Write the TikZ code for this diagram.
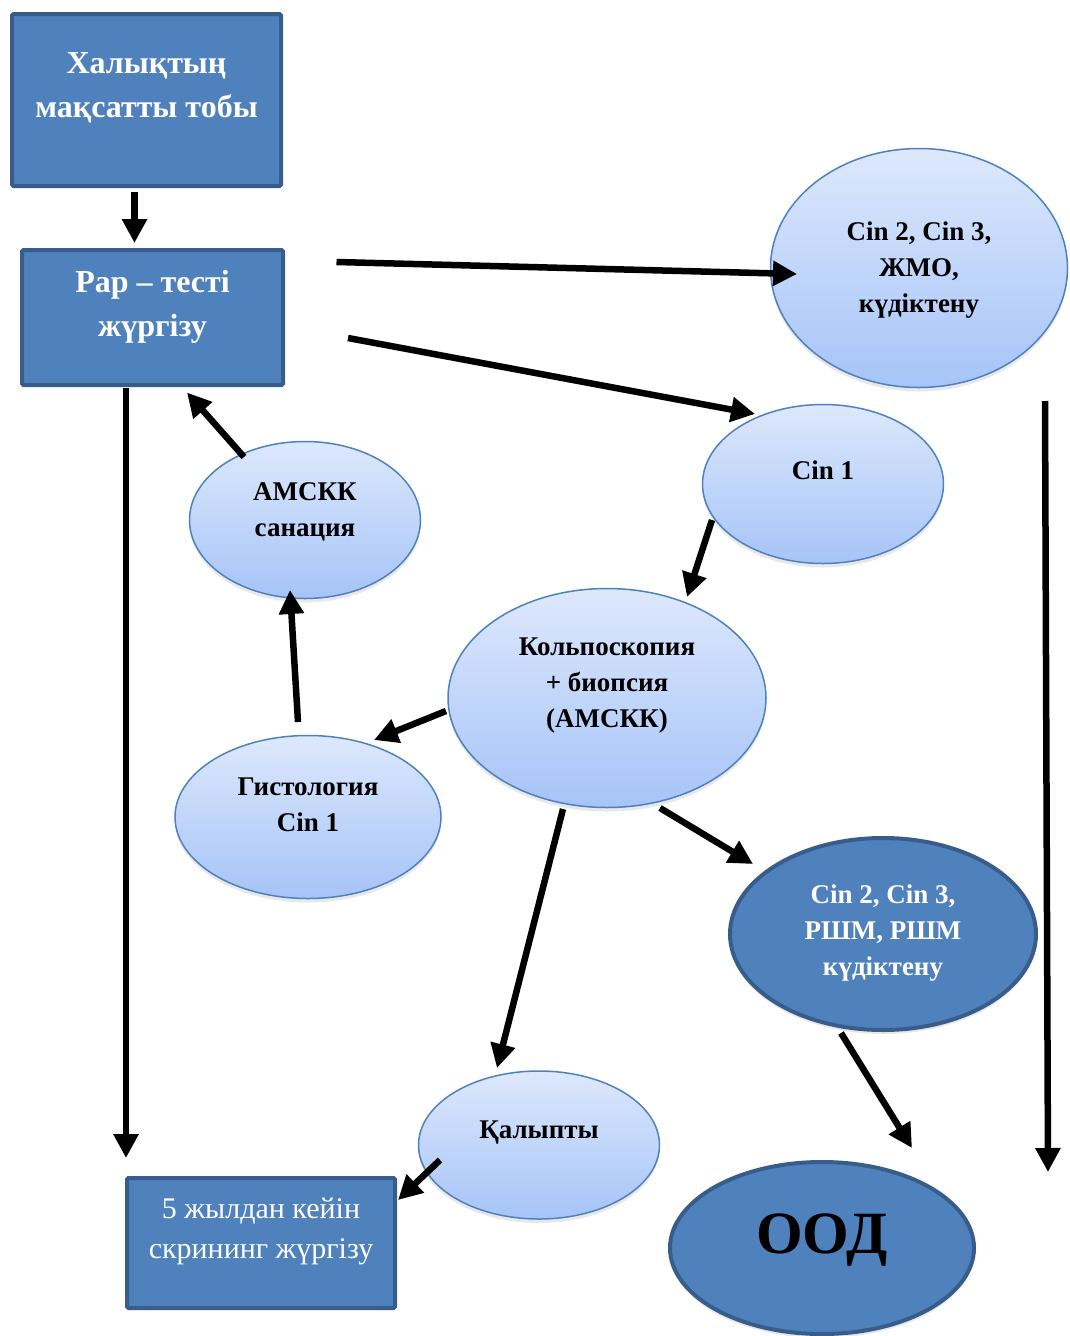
\documentclass[tikz,border=0pt]{standalone}
\usepackage{fontspec}
\setmainfont{Liberation Serif}
\usetikzlibrary{arrows.meta,calc,shapes.geometric,shadows}
\definecolor{boxblue}{HTML}{4F81BD}
\definecolor{boxedge}{HTML}{385D8A}
\definecolor{ovaltop}{HTML}{DDE8FC}
\definecolor{ovalbot}{HTML}{A6C4F8}

\begin{document}
\begin{tikzpicture}[x=1pt, y=-1pt,
  block/.style={rectangle, draw=boxedge, fill=boxblue, line width=4pt, rounded corners=1.5pt, inner sep=0pt},
  oval/.style={ellipse, draw=boxblue, line width=1.5pt, top color=ovaltop, bottom color=ovalbot, inner sep=0pt,
    drop shadow={opacity=0.18, shadow xshift=0pt, shadow yshift=-4pt}},
  darkoval/.style={ellipse, draw=boxedge, fill=boxblue, line width=4pt, inner sep=0pt,
    drop shadow={opacity=0.18, shadow xshift=0pt, shadow yshift=-4pt}},
  boxtxt/.style={align=center, text=white, font=\bfseries\fontsize{32}{44}\selectfont},
  ovaltxt/.style={align=center, font=\bfseries\fontsize{27}{36}\selectfont},
  arrow/.style={-{Triangle[length=24pt, width=24pt]}, line width=6.5pt}
]
\useasboundingbox (0,0) rectangle (1069,1336);

% boxes
\node[block, minimum width=269pt, minimum height=172pt] (pop) at (146.5,100) {};
\node[boxtxt] (popt) at (146.5,88) {Халықтың\\мақсатты тобы};
\node[block, minimum width=261pt, minimum height=135pt] (pap) at (152.5,317.5) {};
\node[boxtxt] (papt) at (152.5,307) {Pap – тесті\\жүргізу};
\node[block, minimum width=268pt, minimum height=130pt] (screen) at (261,1243) {};
\node[align=center, text=white, font=\fontsize{30}{40}\selectfont] (screent) at (261,1231)
  {5 жылдан кейін\\скрининг жүргізу};

% ellipses
\node[oval, minimum width=297pt, minimum height=239pt] (susp) at (919,268) {};
\node[ovaltxt] (suspt) at (919,270) {Cin 2, Cin 3,\\ЖМО,\\күдіктену};
\node[oval, minimum width=241pt, minimum height=159pt] (cin1) at (823,484) {};
\node[ovaltxt] (cin1t) at (823,470) {Cin 1};
\node[oval, minimum width=231pt, minimum height=157pt] (amskk) at (305,520) {};
\node[ovaltxt] (amskkt) at (305,512) {АМСКК\\санация};
\node[oval, minimum width=318pt, minimum height=219pt] (kolpo) at (607,698) {};
\node[ovaltxt] (kolpot) at (607,686) {Кольпоскопия\\+ биопсия\\(АМСКК)};
\node[oval, minimum width=266pt, minimum height=163pt] (histo) at (308,817) {};
\node[ovaltxt] (histot) at (308,805) {Гистология\\Cin 1};
\node[darkoval, minimum width=306pt, minimum height=192pt] (rshm) at (883,934) {};
\node[ovaltxt, text=white] (rshmt) at (883,933) {Cin 2, Cin 3,\\РШМ, РШМ\\күдіктену};
\node[oval, minimum width=241pt, minimum height=148pt] (norm) at (539,1145) {};
\node[ovaltxt] (normt) at (539,1133) {Қалыпты};
\node[darkoval, minimum width=304pt, minimum height=172pt] (ood) at (822,1248) {};
\node[font=\bfseries\fontsize{60}{62}\selectfont] (oodt) at (822,1240) {ООД};

% arrows
\draw[arrow] ($(pop.center)+(-12,92)$) -- ($(pap.center)+(-18,-74.5)$);
\draw[arrow] ($(pap.center)+(184,-55.5)$) -- ($(susp.center)+(-122,6)$);
\draw[arrow] ($(pap.center)+(195.5,20.5)$) -- ($(cin1.center)+(-68,-70)$);
\draw[arrow] ($(amskk.center)+(-61,-63)$) -- ($(pap.center)+(34.5,75)$);
\draw[arrow] ($(cin1.center)+(-111,36)$) -- ($(kolpo.center)+(80,-101)$);
\draw[arrow] ($(histo.center)+(-10,-95)$) -- ($(amskk.center)+(-15,70)$);
\draw[arrow] ($(kolpo.center)+(-161,13)$) -- ($(histo.center)+(66,-77)$);
\draw[arrow] ($(kolpo.center)+(53,110)$) -- ($(rshm.center)+(-130,-70)$);
\draw[arrow] ($(kolpo.center)+(-44,111)$) -- ($(norm.center)+(-42,-77)$);
\draw[arrow] ($(rshm.center)+(-42,99)$) -- ($(ood.center)+(90,-100)$);
\draw[arrow] ($(norm.center)+(-99,15)$) -- ($(screen.center)+(137,-43)$);
\draw[arrow] ($(pap.center)+(-26.5,70)$) -- ($(screen.center)+(-135,-85)$);
\draw[arrow] ($(susp.center)+(126,133)$) -- ($(ood.center)+(226,-76)$);
\end{tikzpicture}
\end{document}
